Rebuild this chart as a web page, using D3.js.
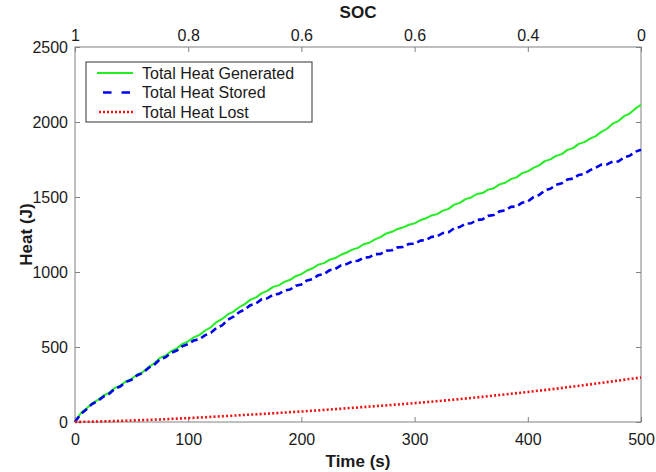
<!doctype html>
<html lang="en">
<head>
<meta charset="utf-8">
<title>Heat vs time</title>
<script src="https://d3js.org/d3.v7.min.js"></script>
<style>
  body { margin: 0; background: #fff; }
  svg text { font-family: "Liberation Sans", Arial, sans-serif; fill: #1a1a1a; }
  .axis path { display: none; }
  .axis line { stroke: #808080; }
</style>
</head>
<body>
<svg id="chart" width="656" height="472"></svg>
<script>
// time (s), one sample every 5 s
const time = [
  0, 5, 10, 15, 20, 25, 30, 35, 40, 45,
  50, 55, 60, 65, 70, 75, 80, 85, 90, 95,
  100, 105, 110, 115, 120, 125, 130, 135, 140, 145,
  150, 155, 160, 165, 170, 175, 180, 185, 190, 195,
  200, 205, 210, 215, 220, 225, 230, 235, 240, 245,
  250, 255, 260, 265, 270, 275, 280, 285, 290, 295,
  300, 305, 310, 315, 320, 325, 330, 335, 340, 345,
  350, 355, 360, 365, 370, 375, 380, 385, 390, 395,
  400, 405, 410, 415, 420, 425, 430, 435, 440, 445,
  450, 455, 460, 465, 470, 475, 480, 485, 490, 495,
  500
];
const heatGenerated = [
  0, 58, 90, 124, 146, 175, 194, 226, 243, 271,
  288, 317, 333, 366, 391, 427, 443, 472, 491, 521,
  538, 564, 581, 610, 631, 666, 687, 717, 736, 765,
  786, 816, 831, 859, 874, 901, 911, 934, 948, 972,
  986, 1010, 1025, 1049, 1059, 1082, 1093, 1115, 1130, 1149,
  1161, 1185, 1195, 1217, 1233, 1257, 1268, 1287, 1298, 1315,
  1324, 1345, 1358, 1377, 1386, 1409, 1421, 1449, 1461, 1486,
  1497, 1520, 1526, 1549, 1558, 1584, 1595, 1619, 1631, 1659,
  1671, 1694, 1711, 1739, 1751, 1774, 1786, 1814, 1826, 1854,
  1866, 1889, 1906, 1934, 1955, 1989, 2006, 2039, 2056, 2089,
  2115
];
const heatStored = [
  0, 52, 84, 119, 139, 169, 187, 221, 237, 267,
  282, 312, 327, 361, 382, 417, 432, 461, 477, 506,
  520, 544, 552, 579, 595, 627, 644, 682, 702, 732,
  750, 779, 790, 819, 825, 849, 854, 876, 883, 909,
  917, 944, 953, 979, 987, 1012, 1020, 1044, 1053, 1072,
  1075, 1096, 1099, 1119, 1121, 1142, 1145, 1164, 1167, 1187,
  1188, 1209, 1213, 1234, 1238, 1260, 1265, 1292, 1300, 1322,
  1325, 1347, 1351, 1374, 1380, 1404, 1410, 1434, 1437, 1462,
  1470, 1499, 1513, 1544, 1555, 1582, 1591, 1617, 1623, 1647,
  1653, 1679, 1695, 1716, 1717, 1736, 1737, 1764, 1775, 1802,
  1815
];
// heat lost is smooth, sampled every 25 s
const timeLost = [0, 25, 50, 75, 100, 125, 150, 175, 200, 225, 250, 275, 300, 325, 350, 375, 400, 425, 450, 475, 500];
const heatLost = [0, 4, 10, 17, 26, 36, 47, 58, 70, 83, 97, 111, 126, 142, 160, 180, 200, 222, 246, 271, 297];

const timeTicks = [0, 100, 200, 300, 400, 500];
const socLabels = ["1", "0.8", "0.6", "0.6", "0.4", "0"];
const heatTicks = [0, 500, 1000, 1500, 2000, 2500];

const series = [
  { name: "Total Heat Generated", x: time, y: heatGenerated, color: "#22ee22", width: 2, dash: null, legendDash: null },
  { name: "Total Heat Stored", x: time, y: heatStored, color: "#0000f0", width: 2.6, dash: "7,4", legendDash: "8.5,10" },
  { name: "Total Heat Lost", x: timeLost, y: heatLost, color: "#f01010", width: 2.6, dash: "2,2.2", legendDash: "2,2" }
];

const svg = d3.select("#chart");
const m = { left: 75, right: 15, top: 47, bottom: 50 };
const W = 656 - m.left - m.right, H = 472 - m.top - m.bottom;

const x = d3.scaleLinear().domain([0, 500]).range([0, W]);
const y = d3.scaleLinear().domain([0, 2500]).range([H, 0]);

const g = svg.append("g").attr("transform", `translate(${m.left},${m.top})`);

// axes, ticks pointing inwards
g.append("g").attr("class", "axis").attr("transform", `translate(0,${H})`)
  .call(d3.axisBottom(x).tickValues(timeTicks).tickFormat(d3.format("d"))
    .tickSizeInner(-5).tickSizeOuter(0).tickPadding(12))
  .selectAll("text").style("font-size", "16px");
g.append("g").attr("class", "axis")
  .call(d3.axisTop(x).tickValues(timeTicks).tickSizeInner(-5).tickSizeOuter(0).tickPadding(6)
    .tickFormat((d, i) => socLabels[i]))
  .selectAll("text").style("font-size", "16px");
g.append("g").attr("class", "axis")
  .call(d3.axisLeft(y).tickValues(heatTicks).tickFormat(d3.format("d"))
    .tickSizeInner(-5).tickSizeOuter(0).tickPadding(7))
  .selectAll("text").style("font-size", "16px");
g.append("g").attr("class", "axis").attr("transform", `translate(${W},0)`)
  .call(d3.axisRight(y).tickValues(heatTicks).tickSizeInner(-5).tickSizeOuter(0).tickFormat(""));

g.append("rect").attr("width", W).attr("height", H)
  .attr("fill", "none").attr("stroke", "#808080").attr("stroke-width", 1);

// lines
series.forEach(s => {
  const line = d3.line().x((d, i) => x(s.x[i])).y(d => y(d));
  g.append("path")
    .datum(s.y)
    .attr("d", line)
    .attr("fill", "none")
    .attr("stroke", s.color)
    .attr("stroke-width", s.width)
    .attr("stroke-dasharray", s.dash)
    .attr("stroke-linejoin", "round");
});

// titles
svg.append("text").attr("x", m.left + W / 2).attr("y", 467).attr("text-anchor", "middle")
  .style("font-size", "17px").style("font-weight", "bold").text("Time (s)");
svg.append("text").attr("x", m.left + W / 2).attr("y", 18).attr("text-anchor", "middle")
  .style("font-size", "17px").style("font-weight", "bold").text("SOC");
svg.append("text").attr("transform", `translate(32,${m.top + H / 2}) rotate(-90)`).attr("text-anchor", "middle")
  .style("font-size", "17px").style("font-weight", "bold").text("Heat (J)");

// legend
const lg = svg.append("g").attr("transform", "translate(86,62)");
lg.append("rect").attr("width", 226).attr("height", 60)
  .attr("fill", "#fff").attr("stroke", "#333").attr("stroke-width", 1);
series.forEach((s, i) => {
  const cy = 11 + i * 19.5;
  lg.append("line").attr("x1", 11).attr("x2", 47).attr("y1", cy).attr("y2", cy)
    .attr("stroke", s.color).attr("stroke-width", s.width)
    .attr("stroke-dasharray", s.legendDash)
    .attr("stroke-dashoffset", s.legendDash ? -6 : 0);
  lg.append("text").attr("x", 56).attr("y", cy + 5.5).style("font-size", "16px").text(s.name);
});
</script>
</body>
</html>
